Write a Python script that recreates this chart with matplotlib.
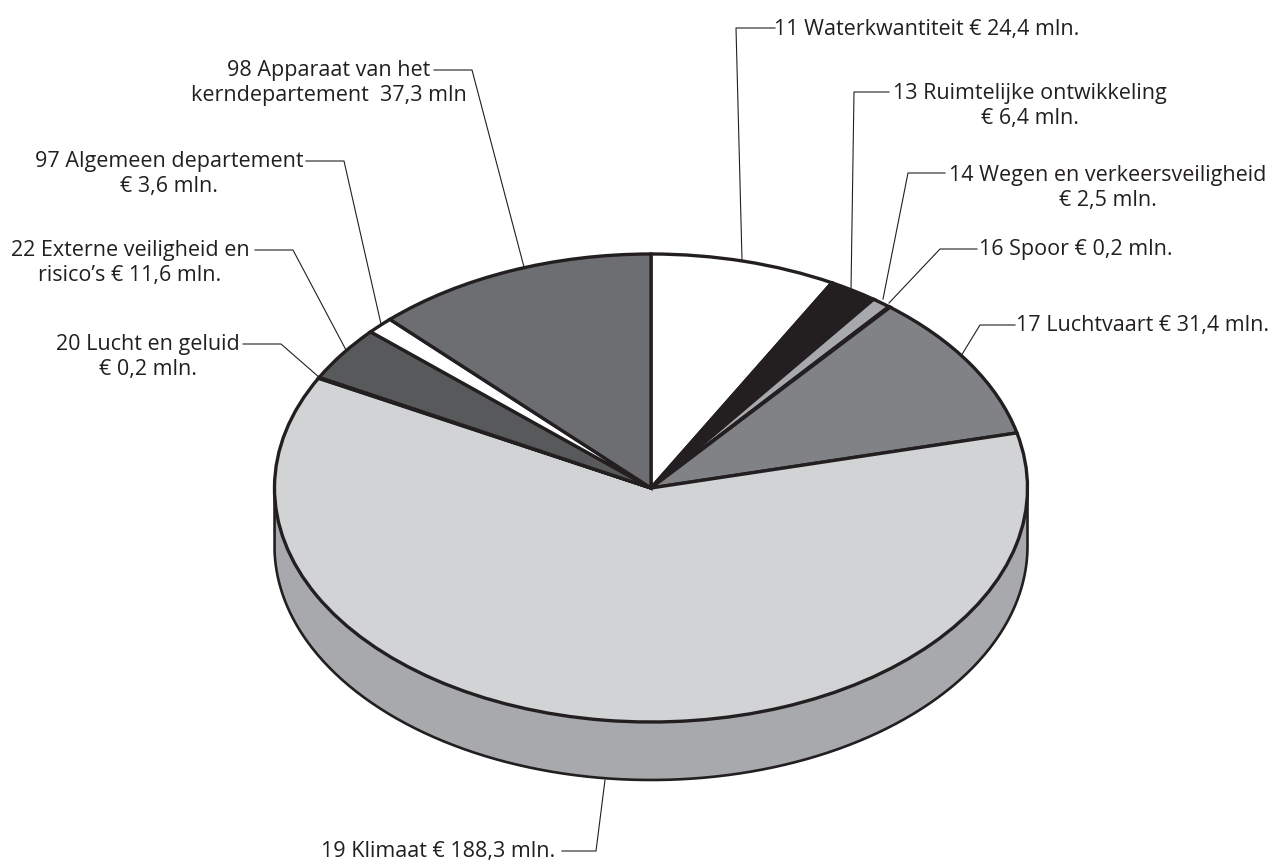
import numpy as np
import matplotlib
matplotlib.use("Agg")
import matplotlib.pyplot as plt

plt.rcParams['font.family'] = ['Open Sans', 'DejaVu Sans']

articles = ["11", "13", "14", "16", "17", "19", "20", "22", "97", "98"]
amounts = [24.4, 6.4, 2.5, 0.2, 31.4, 188.3, 0.2, 11.6, 3.6, 37.3]
colors = ["#ffffff", "#231f20", "#a7a9ac", "#ffffff", "#808285",
          "#d1d3d4", "#d1d3d4", "#58595b", "#ffffff", "#6d6e71"]

labels = ["11 Waterkwantiteit € 24,4 mln.",
          "13 Ruimtelijke ontwikkeling\n€ 6,4 mln.",
          "14 Wegen en verkeersveiligheid\n€ 2,5 mln.",
          "16 Spoor € 0,2 mln.",
          "17 Luchtvaart € 31,4 mln.",
          "19 Klimaat € 188,3 mln.",
          "20 Lucht en geluid\n€ 0,2 mln.",
          "22 Externe veiligheid en\nrisico’s € 11,6 mln.",
          "97 Algemeen departement\n€ 3,6 mln.",
          "98 Apparaat van het\nkerndepartement  37,3 mln"]

# layout in pixels
W, H = 1275, 861
cx, cy = 651, 488
rx, ry = 376.5, 234
depth = 58
ink = "#231f20"
label_pos = [(927, 29), (1030, 106), (1108, 188), (1076, 250), (1143, 326),
             (438, 852), (148, 357), (130, 263), (169, 174), (329, 83)]
leaders = [[(775, 28), (736, 28), (742, 260)],
           [(889, 92), (854, 92), (851, 290)],
           [(945, 173), (908, 173), (883, 299)],
           [(977, 249), (940, 249), (889, 303)],
           [(1015, 325), (980, 325), (961, 356)],
           [(562, 851), (596, 851), (605, 780)],
           [(243, 344), (281, 344), (320, 378)],
           [(255, 250), (293, 250), (346, 350)],
           [(306, 161), (344, 161), (381, 324)],
           [(434, 70), (472, 70), (524, 267)]]

fig = plt.figure(figsize=(W / 100, H / 100), dpi=100)

# unit circle stretched to the ellipse: the axes box is the ellipse plus the margins
ax = fig.add_axes([0, 0, 1, 1])
ax.pie(amounts, colors=colors, startangle=90, counterclock=False,
       wedgeprops=dict(edgecolor=ink, linewidth=2.4))
ax.set_aspect('auto')
ax.set_xlim(-cx / rx, (W - cx) / rx)
ax.set_ylim(-(H - cy) / ry, cy / ry)
ax.axis('off')

# side wall of the disc
t = np.linspace(np.pi, 2 * np.pi, 300)
d = depth / ry
ax.fill_between(np.cos(t), np.sin(t), np.sin(t) - d, color="#a7a9ac", lw=0, zorder=0.5)
wall_x = np.r_[-1, np.cos(t), 1]
wall_y = np.r_[0, np.sin(t) - d, 0]
ax.plot(wall_x, wall_y, color=ink, lw=1.9, zorder=0.6, solid_joinstyle='round')

# labels and leader lines
over = fig.add_axes([0, 0, 1, 1])
over.set_xlim(0, W)
over.set_ylim(H, 0)
over.axis('off')
for lab, (x, y), pts in zip(labels, label_pos, leaders):
    over.text(x, y, lab, ha='center', va='center', fontsize=15.5, color=ink,
              linespacing=1.24)
    over.plot([p[0] for p in pts], [p[1] for p in pts], color=ink, lw=0.8)

fig.savefig("out.png", dpi=100)
